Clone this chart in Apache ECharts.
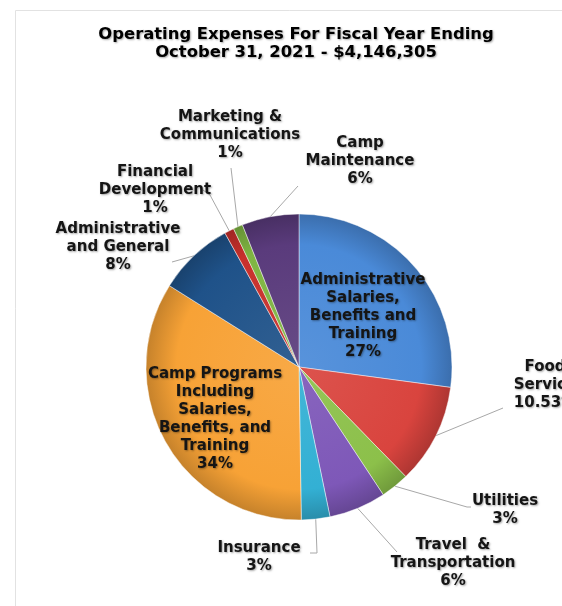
<!DOCTYPE html>
<html>
<head>
<meta charset="utf-8">
<script src="https://cdn.jsdelivr.net/npm/echarts@6/dist/echarts.min.js"></script>
<style>
html,body{margin:0;padding:0;background:#fff;}
#chart{width:562px;height:606px;}
</style>
</head>
<body>
<div id="chart"></div>
<script>
// ---- data ----
const titleLines = ['Operating Expenses For Fiscal Year Ending', 'October 31, 2021 - $4,146,305'];
const categories = [
  'Administrative\nSalaries,\nBenefits and\nTraining',
  'Food\nService',
  'Utilities',
  'Travel  &\nTransportation',
  'Insurance',
  'Camp Programs\nIncluding\nSalaries,\nBenefits, and\nTraining',
  'Administrative\nand General',
  'Financial\nDevelopment',
  'Marketing &\nCommunications',
  'Camp\nMaintenance'
];
const percents = [27, 10.53, 3, 6, 3, 34, 8, 1, 1, 6];
const insideLabel = [true, false, false, false, false, true, false, false, false, false];
const sliceColors = ['#4a8ad8', '#d9443e', '#8cc04a', '#7e58b8', '#33b0d4', '#f7a236', '#1f5289', '#c8302c', '#7fb542', '#5a3b7c'];

// ---- layout (not data) ----
const pieCenter = [299, 367];
const pieRadius = 153;
const labelAnchor = [[363,316],[545,385],[505,510],[453,563],[259,557],[215,419],[118,247],[155,190],[230,135],[360,161]];
const lineTail = [null, [[503,408]], [[467,507],[471,507]], [[397,552]], [[317,553],[310,553]], null, [[172,262]], [[210,195],[203,190]], [[231,168]], [[298,186]]];

function mix(hex, target, t) {
  const a = parseInt(hex.slice(1), 16);
  const r = (a >> 16) & 255, g = (a >> 8) & 255, b = a & 255;
  const c = target === 'w' ? 255 : 0;
  const f = v => Math.round(v + (c - v) * t);
  return 'rgb(' + f(r) + ',' + f(g) + ',' + f(b) + ')';
}

const chart = echarts.init(document.getElementById('chart'), null, {renderer: 'canvas'});
const textBase = {
  fontFamily: 'DejaVu Sans',
  fontWeight: 'bold',
  fontSize: 15,
  lineHeight: 18,
  color: '#151515',
  textShadowColor: 'rgba(0,0,0,0.35)',
  textShadowBlur: 2,
  textShadowOffsetX: 1,
  textShadowOffsetY: 1
};

const data = categories.map((name, i) => ({
  name: name,
  value: percents[i],
  itemStyle: {
    color: {
      type: 'radial', x: pieCenter[0], y: pieCenter[1], r: pieRadius, global: true,
      colorStops: [
        {offset: 0, color: mix(sliceColors[i], 'w', 0.08)},
        {offset: 0.8, color: sliceColors[i]},
        {offset: 1, color: mix(sliceColors[i], 'k', 0.2)}
      ]
    }
  },
  label: insideLabel[i] ? {position: 'inside'} : {position: 'outside'},
  labelLine: {show: !insideLabel[i]}
}));

chart.setOption({
  backgroundColor: '#ffffff',
  animation: false,
  graphic: [
    {type: 'rect', shape: {x: 15.5, y: 10.5, width: 600, height: 700}, style: {fill: 'none', stroke: '#e2e2e2', lineWidth: 1}, silent: true},
    {type: 'text', x: 296, y: 26, style: Object.assign({}, textBase, {text: titleLines.join('\n'), fontSize: 16.4, lineHeight: 18, textAlign: 'center', textVerticalAlign: 'top'})}
  ],
  series: [{
    type: 'pie',
    center: pieCenter,
    radius: pieRadius,
    startAngle: 90,
    clockwise: true,
    avoidLabelOverlap: false,
    itemStyle: {borderColor: 'rgba(255,255,255,0.45)', borderWidth: 1},
    label: Object.assign({}, textBase, {
      show: true,
      align: 'center',
      formatter: p => p.name + '\n' + p.value + '%'
    }),
    labelLine: {show: true, length: 20, length2: 10, lineStyle: {color: '#a8a8a8', width: 1}},
    labelLayout: function (params) {
      const i = params.dataIndex;
      const res = {x: labelAnchor[i][0], y: labelAnchor[i][1], align: 'center', verticalAlign: 'middle'};
      if (lineTail[i] && params.labelLinePoints) {
        res.labelLinePoints = [params.labelLinePoints[0]].concat(lineTail[i]);
      }
      return res;
    },
    data: data
  }]
});
</script>
</body>
</html>
